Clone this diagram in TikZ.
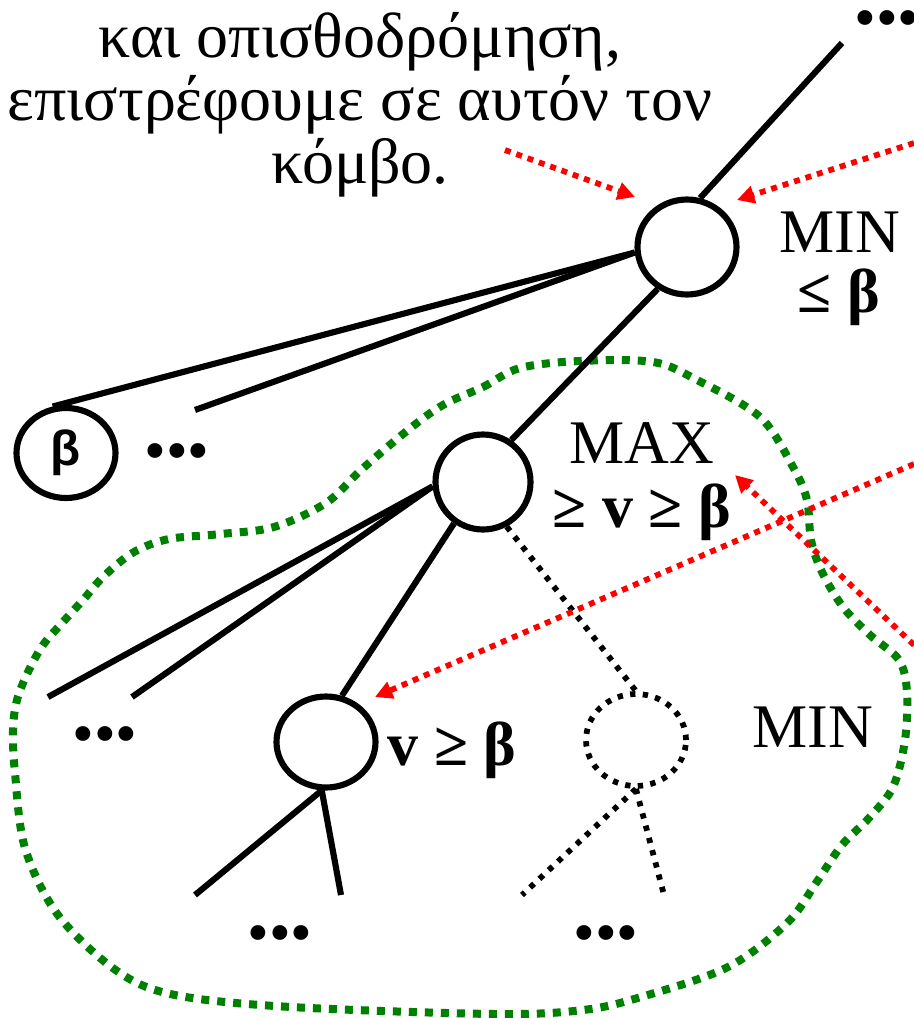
\documentclass[tikz,border=0pt]{standalone}
\usepackage{fontspec}
\setmainfont{Liberation Serif}
\newfontfamily\betafont{Liberation Sans}
\usetikzlibrary{shapes.geometric,arrows.meta}
\definecolor{gdot}{RGB}{0,128,0}
\definecolor{rdot}{RGB}{255,0,0}
\tikzset{
  treenode/.style={ellipse,draw,line width=4.6pt,inner sep=0pt,fill=white},
  ghostnode/.style={ellipse,draw,line width=4.3pt,dash pattern=on 4pt off 5.5pt,inner sep=0pt},
  edge/.style={line width=4.6pt},
  ghostedge/.style={line width=4.3pt,dash pattern=on 4pt off 5.5pt},
  hint/.style={rdot,line width=4.3pt,dash pattern=on 4.5pt off 4.5pt,-{Triangle[length=13pt,width=13pt]}},
  region/.style={gdot,line width=6pt,dash pattern=on 6pt off 6pt},
  lbl/.style={inner sep=0pt,anchor=base,font=\fontsize{46.5}{47.25}\selectfont},
  blbl/.style={lbl,font=\fontsize{46.5}{47.25}\selectfont\bfseries},
  more/.style={inner sep=0pt,font=\fontsize{46.5}{48}\selectfont}
}
\begin{document}
\begin{tikzpicture}[x=0.75pt,y=-0.75pt]
\clip (0,0) rectangle (914,1018);

% green region
\draw[region] plot[smooth cycle,tension=0.55] coordinates {
(443,405) (483,387) (520,368) (580,361) (653,362) (697,380) (760,417) (793,467)
(807,500) (811,540) (822,572) (843,607) (870,635) (899,660) (907,692) (905,740)
(893,787) (869,818) (842,845) (816,883) (787,923) (728,967) (641,997) (583,1010)
(495,1014) (291,1007) (175,995) (117,971) (58,915) (25,848) (15,773) (13,730)
(17,700) (28,672) (43,645) (63,622) (83,600) (104,576) (134,552) (169,539)
(221,534) (274,527) (326,503) (361,470) (408,430)};

% text (base anchor = last line)
\node[lbl,align=center,font=\fontsize{48}{47.25}\selectfont] (txt) at (360,183) {και οπισθοδρόμηση,\\επιστρέφουμε σε αυτόν τον\\κόμβο.};

% nodes
\node[treenode,minimum width=74.25pt,minimum height=71.25pt] (minN) at (687,247) {};
\node[treenode,minimum width=74.25pt,minimum height=67.5pt] (betaN) at (66,453) {\betafont\bfseries\fontsize{37}{37}\selectfont β};
\node[treenode,minimum width=71.25pt,minimum height=71.25pt] (maxN) at (483,482) {};
\node[treenode,minimum width=74.25pt,minimum height=68.25pt] (vN) at (326,742) {};
\node[ghostnode,minimum width=75pt,minimum height=69pt] (gN) at (636,740) {};

% labels
\node[lbl] (minLbl) at (840,252) {MIN};
\node[blbl] (minBnd) at (839,312) {≤ β};
\node[lbl] (maxLbl) at (642,463) {MAX};
\node[blbl] (maxBnd) at (642,527) {≥ v ≥ β};
\node[blbl] (vLbl) at (452,765) {v ≥ β};
\node[lbl] (min2Lbl) at (813,747) {MIN};

% dots
\node[more] (dTR) at (887,25) {•••};
\node[more] (dB) at (177,458) {•••};
\node[more] (dL) at (105,741) {•••};
\node[more] (dV) at (280,940) {•••};
\node[more] (dG) at (606,940) {•••};

% free ends
\coordinate (tr) at (842,43);
\coordinate (c1) at (195,410);
\coordinate (l1) at (48,697);
\coordinate (l2) at (132,697);
\coordinate (b1) at (195,895);
\coordinate (b2) at (341,895);
\coordinate (b3) at (522,895);
\coordinate (b4) at (664,895);

% edges
\draw[edge] (minN.75) -- (tr);
\draw[edge] (minN.186) -- (betaN.106);
\draw[edge] (minN.186) -- (c1);
\draw[edge] (minN.235) -- (maxN.56);
\draw[edge] (maxN.185) -- (l1);
\draw[edge] (maxN.185) -- (l2);
\draw[edge] (maxN.235) -- (vN.71);
\draw[ghostedge] (maxN.298) -- (gN.90);
\draw[edge] (vN.265) -- (b1);
\draw[edge] (vN.265) -- (b2);
\draw[ghostedge] (gN.270) -- (b3);
\draw[ghostedge] (gN.270) -- (b4);

% red hints
\coordinate (a1s) at (505,150);
\coordinate (a1e) at (635,197);
\coordinate (a2s) at (914,143);
\coordinate (a2e) at (737,200);
\coordinate (a3s) at (914,464);
\coordinate (a3e) at (375,697);
\coordinate (a4s) at (914,645);
\coordinate (a4e) at (735,475);
\draw[hint] (a1s) -- (a1e);
\draw[hint] (a2s) -- (a2e);
\draw[hint] (a3s) -- (a3e);
\draw[hint] (a4s) -- (a4e);
\end{tikzpicture}
\end{document}
